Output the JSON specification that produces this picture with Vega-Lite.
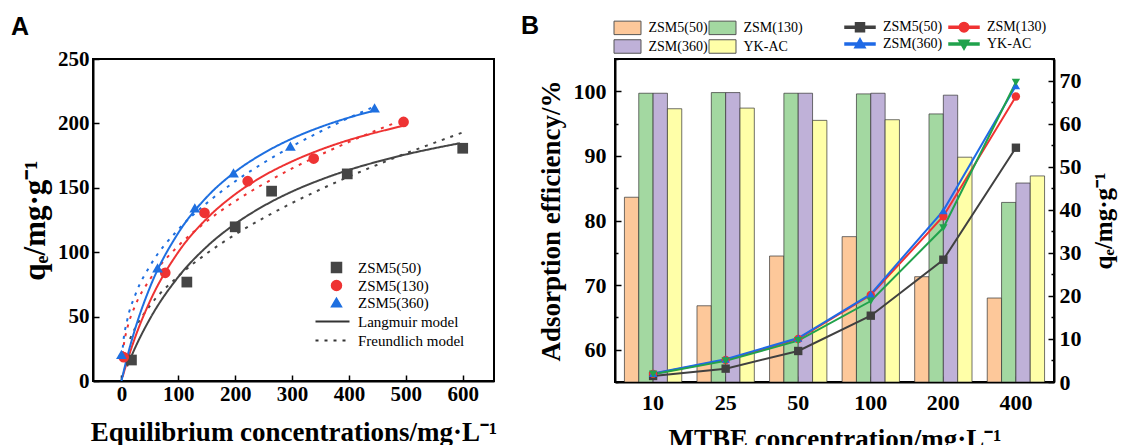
{
  "$schema": "https://vega.github.io/schema/vega-lite/v6.json",
  "padding": {"left": 10, "top": 13, "right": 5, "bottom": 0},
  "bounds": "flush",
  "spacing": 121,
  "resolve": {"scale": {"fill": "independent", "color": "independent", "stroke": "independent", "shape": "independent", "strokeDash": "independent"}, "legend": {"fill": "independent", "color": "independent", "stroke": "independent", "shape": "independent", "strokeDash": "independent"}},
  "config": {
    "font": "Liberation Serif",
    "view": {"stroke": "black", "strokeWidth": 2},
    "axis": {"domainColor": "black", "domainWidth": 2, "tickColor": "black", "tickWidth": 1.5, "labelFont": "Liberation Serif", "labelFontWeight": "bold", "labelFontSize": 21, "labelColor": "black", "titleFont": "Liberation Serif", "titleFontWeight": "bold", "titleColor": "black", "grid": false, "labelOverlap": false, "labelFlush": false},
    "legend": {"labelFont": "Liberation Serif", "labelFontSize": 14, "labelColor": "black", "padding": 0, "titlePadding": 0, "labelLimit": 200}
  },
  "datasets": {
    "curvesA": [
      {"sample": "ZSM5(50)", "model": "Langmuir model", "C": 10, "q": 11.4},
      {"sample": "ZSM5(50)", "model": "Langmuir model", "C": 25, "q": 26.7},
      {"sample": "ZSM5(50)", "model": "Langmuir model", "C": 50, "q": 48.2},
      {"sample": "ZSM5(50)", "model": "Langmuir model", "C": 100, "q": 80.8},
      {"sample": "ZSM5(50)", "model": "Langmuir model", "C": 150, "q": 104.3},
      {"sample": "ZSM5(50)", "model": "Langmuir model", "C": 200, "q": 122},
      {"sample": "ZSM5(50)", "model": "Langmuir model", "C": 250, "q": 135.9},
      {"sample": "ZSM5(50)", "model": "Langmuir model", "C": 300, "q": 147.1},
      {"sample": "ZSM5(50)", "model": "Langmuir model", "C": 350, "q": 156.2},
      {"sample": "ZSM5(50)", "model": "Langmuir model", "C": 400, "q": 163.9},
      {"sample": "ZSM5(50)", "model": "Langmuir model", "C": 450, "q": 170.3},
      {"sample": "ZSM5(50)", "model": "Langmuir model", "C": 500, "q": 175.9},
      {"sample": "ZSM5(50)", "model": "Langmuir model", "C": 550, "q": 180.7},
      {"sample": "ZSM5(50)", "model": "Langmuir model", "C": 595, "q": 184.6},
      {"sample": "ZSM5(50)", "model": "Freundlich model", "C": 15, "q": 32.7},
      {"sample": "ZSM5(50)", "model": "Freundlich model", "C": 25, "q": 41.8},
      {"sample": "ZSM5(50)", "model": "Freundlich model", "C": 50, "q": 58.4},
      {"sample": "ZSM5(50)", "model": "Freundlich model", "C": 100, "q": 81.4},
      {"sample": "ZSM5(50)", "model": "Freundlich model", "C": 150, "q": 99},
      {"sample": "ZSM5(50)", "model": "Freundlich model", "C": 200, "q": 113.7},
      {"sample": "ZSM5(50)", "model": "Freundlich model", "C": 250, "q": 126.6},
      {"sample": "ZSM5(50)", "model": "Freundlich model", "C": 300, "q": 138.2},
      {"sample": "ZSM5(50)", "model": "Freundlich model", "C": 350, "q": 148.8},
      {"sample": "ZSM5(50)", "model": "Freundlich model", "C": 400, "q": 158.7},
      {"sample": "ZSM5(50)", "model": "Freundlich model", "C": 450, "q": 167.9},
      {"sample": "ZSM5(50)", "model": "Freundlich model", "C": 500, "q": 176.7},
      {"sample": "ZSM5(50)", "model": "Freundlich model", "C": 550, "q": 184.9},
      {"sample": "ZSM5(50)", "model": "Freundlich model", "C": 600, "q": 193},
      {"sample": "ZSM5(130)", "model": "Langmuir model", "C": 2, "q": 3.2},
      {"sample": "ZSM5(130)", "model": "Langmuir model", "C": 10, "q": 15.2},
      {"sample": "ZSM5(130)", "model": "Langmuir model", "C": 25, "q": 35},
      {"sample": "ZSM5(130)", "model": "Langmuir model", "C": 50, "q": 61.8},
      {"sample": "ZSM5(130)", "model": "Langmuir model", "C": 100, "q": 100.1},
      {"sample": "ZSM5(130)", "model": "Langmuir model", "C": 150, "q": 126.1},
      {"sample": "ZSM5(130)", "model": "Langmuir model", "C": 200, "q": 145},
      {"sample": "ZSM5(130)", "model": "Langmuir model", "C": 250, "q": 159.3},
      {"sample": "ZSM5(130)", "model": "Langmuir model", "C": 300, "q": 170.5},
      {"sample": "ZSM5(130)", "model": "Langmuir model", "C": 350, "q": 179.6},
      {"sample": "ZSM5(130)", "model": "Langmuir model", "C": 400, "q": 187.1},
      {"sample": "ZSM5(130)", "model": "Langmuir model", "C": 450, "q": 193.2},
      {"sample": "ZSM5(130)", "model": "Langmuir model", "C": 495, "q": 198.1},
      {"sample": "ZSM5(130)", "model": "Freundlich model", "C": 2, "q": 20.9},
      {"sample": "ZSM5(130)", "model": "Freundlich model", "C": 5, "q": 30.5},
      {"sample": "ZSM5(130)", "model": "Freundlich model", "C": 10, "q": 40.6},
      {"sample": "ZSM5(130)", "model": "Freundlich model", "C": 25, "q": 59.3},
      {"sample": "ZSM5(130)", "model": "Freundlich model", "C": 50, "q": 78.8},
      {"sample": "ZSM5(130)", "model": "Freundlich model", "C": 100, "q": 104.9},
      {"sample": "ZSM5(130)", "model": "Freundlich model", "C": 150, "q": 124},
      {"sample": "ZSM5(130)", "model": "Freundlich model", "C": 200, "q": 139.6},
      {"sample": "ZSM5(130)", "model": "Freundlich model", "C": 250, "q": 153},
      {"sample": "ZSM5(130)", "model": "Freundlich model", "C": 300, "q": 165},
      {"sample": "ZSM5(130)", "model": "Freundlich model", "C": 350, "q": 175.7},
      {"sample": "ZSM5(130)", "model": "Freundlich model", "C": 400, "q": 185.6},
      {"sample": "ZSM5(130)", "model": "Freundlich model", "C": 450, "q": 194.9},
      {"sample": "ZSM5(130)", "model": "Freundlich model", "C": 480, "q": 200.2},
      {"sample": "ZSM5(360)", "model": "Langmuir model", "C": 0, "q": 0},
      {"sample": "ZSM5(360)", "model": "Langmuir model", "C": 10, "q": 18.4},
      {"sample": "ZSM5(360)", "model": "Langmuir model", "C": 25, "q": 41.8},
      {"sample": "ZSM5(360)", "model": "Langmuir model", "C": 50, "q": 72.6},
      {"sample": "ZSM5(360)", "model": "Langmuir model", "C": 100, "q": 115},
      {"sample": "ZSM5(360)", "model": "Langmuir model", "C": 150, "q": 142.8},
      {"sample": "ZSM5(360)", "model": "Langmuir model", "C": 200, "q": 162.4},
      {"sample": "ZSM5(360)", "model": "Langmuir model", "C": 250, "q": 176.9},
      {"sample": "ZSM5(360)", "model": "Langmuir model", "C": 300, "q": 188.2},
      {"sample": "ZSM5(360)", "model": "Langmuir model", "C": 350, "q": 197.2},
      {"sample": "ZSM5(360)", "model": "Langmuir model", "C": 400, "q": 204.5},
      {"sample": "ZSM5(360)", "model": "Langmuir model", "C": 440, "q": 209.4},
      {"sample": "ZSM5(360)", "model": "Freundlich model", "C": 1, "q": 18.7},
      {"sample": "ZSM5(360)", "model": "Freundlich model", "C": 3, "q": 29},
      {"sample": "ZSM5(360)", "model": "Freundlich model", "C": 10, "q": 46.9},
      {"sample": "ZSM5(360)", "model": "Freundlich model", "C": 25, "q": 67.6},
      {"sample": "ZSM5(360)", "model": "Freundlich model", "C": 50, "q": 89.2},
      {"sample": "ZSM5(360)", "model": "Freundlich model", "C": 100, "q": 117.6},
      {"sample": "ZSM5(360)", "model": "Freundlich model", "C": 150, "q": 138.1},
      {"sample": "ZSM5(360)", "model": "Freundlich model", "C": 200, "q": 155},
      {"sample": "ZSM5(360)", "model": "Freundlich model", "C": 250, "q": 169.4},
      {"sample": "ZSM5(360)", "model": "Freundlich model", "C": 300, "q": 182.2},
      {"sample": "ZSM5(360)", "model": "Freundlich model", "C": 350, "q": 193.7},
      {"sample": "ZSM5(360)", "model": "Freundlich model", "C": 400, "q": 204.3},
      {"sample": "ZSM5(360)", "model": "Freundlich model", "C": 445, "q": 213.1}
    ],
    "pointsA": [
      {"sample": "ZSM5(50)", "C": 17.6, "q": 16.3},
      {"sample": "ZSM5(50)", "C": 115, "q": 76.8},
      {"sample": "ZSM5(50)", "C": 200, "q": 119.7},
      {"sample": "ZSM5(50)", "C": 264, "q": 147.4},
      {"sample": "ZSM5(50)", "C": 397, "q": 160.8},
      {"sample": "ZSM5(50)", "C": 600, "q": 180.7},
      {"sample": "ZSM5(130)", "C": 4, "q": 18.5},
      {"sample": "ZSM5(130)", "C": 77, "q": 84},
      {"sample": "ZSM5(130)", "C": 146, "q": 130.6},
      {"sample": "ZSM5(130)", "C": 222, "q": 155.1},
      {"sample": "ZSM5(130)", "C": 338, "q": 172.7},
      {"sample": "ZSM5(130)", "C": 496, "q": 201.1},
      {"sample": "ZSM5(360)", "C": 0, "q": 20.7},
      {"sample": "ZSM5(360)", "C": 63.5, "q": 87.9},
      {"sample": "ZSM5(360)", "C": 129, "q": 134.4},
      {"sample": "ZSM5(360)", "C": 197, "q": 161.6},
      {"sample": "ZSM5(360)", "C": 297, "q": 182.3},
      {"sample": "ZSM5(360)", "C": 445, "q": 212}
    ],
    "bars": [
      {"conc": "10", "material": "ZSM5(50)", "eff": 83.6},
      {"conc": "10", "material": "ZSM(130)", "eff": 99.7},
      {"conc": "10", "material": "ZSM(360)", "eff": 99.7},
      {"conc": "10", "material": "YK-AC", "eff": 97.3},
      {"conc": "25", "material": "ZSM5(50)", "eff": 66.8},
      {"conc": "25", "material": "ZSM(130)", "eff": 99.8},
      {"conc": "25", "material": "ZSM(360)", "eff": 99.8},
      {"conc": "25", "material": "YK-AC", "eff": 97.4},
      {"conc": "50", "material": "ZSM5(50)", "eff": 74.5},
      {"conc": "50", "material": "ZSM(130)", "eff": 99.7},
      {"conc": "50", "material": "ZSM(360)", "eff": 99.7},
      {"conc": "50", "material": "YK-AC", "eff": 95.5},
      {"conc": "100", "material": "ZSM5(50)", "eff": 77.5},
      {"conc": "100", "material": "ZSM(130)", "eff": 99.6},
      {"conc": "100", "material": "ZSM(360)", "eff": 99.7},
      {"conc": "100", "material": "YK-AC", "eff": 95.6},
      {"conc": "200", "material": "ZSM5(50)", "eff": 71.3},
      {"conc": "200", "material": "ZSM(130)", "eff": 96.5},
      {"conc": "200", "material": "ZSM(360)", "eff": 99.4},
      {"conc": "200", "material": "YK-AC", "eff": 89.8},
      {"conc": "400", "material": "ZSM5(50)", "eff": 68.0},
      {"conc": "400", "material": "ZSM(130)", "eff": 82.8},
      {"conc": "400", "material": "ZSM(360)", "eff": 85.8},
      {"conc": "400", "material": "YK-AC", "eff": 86.9}
    ],
    "linesB": [
      {"conc": "10", "sample": "ZSM5(50)", "q": 1.4},
      {"conc": "25", "sample": "ZSM5(50)", "q": 3.1},
      {"conc": "50", "sample": "ZSM5(50)", "q": 7.2},
      {"conc": "100", "sample": "ZSM5(50)", "q": 15.4},
      {"conc": "200", "sample": "ZSM5(50)", "q": 28.4},
      {"conc": "400", "sample": "ZSM5(50)", "q": 54.4},
      {"conc": "10", "sample": "ZSM(130)", "q": 1.9},
      {"conc": "25", "sample": "ZSM(130)", "q": 5.1},
      {"conc": "50", "sample": "ZSM(130)", "q": 10.0},
      {"conc": "100", "sample": "ZSM(130)", "q": 20.2},
      {"conc": "200", "sample": "ZSM(130)", "q": 38.5},
      {"conc": "400", "sample": "ZSM(130)", "q": 66.3},
      {"conc": "10", "sample": "ZSM(360)", "q": 2.0},
      {"conc": "25", "sample": "ZSM(360)", "q": 5.3},
      {"conc": "50", "sample": "ZSM(360)", "q": 10.2},
      {"conc": "100", "sample": "ZSM(360)", "q": 20.4},
      {"conc": "200", "sample": "ZSM(360)", "q": 39.8},
      {"conc": "400", "sample": "ZSM(360)", "q": 68.8},
      {"conc": "10", "sample": "YK-AC", "q": 1.8},
      {"conc": "25", "sample": "YK-AC", "q": 4.9},
      {"conc": "50", "sample": "YK-AC", "q": 9.6},
      {"conc": "100", "sample": "YK-AC", "q": 18.8},
      {"conc": "200", "sample": "YK-AC", "q": 35.8},
      {"conc": "400", "sample": "YK-AC", "q": 69.6}
    ]
  },
  "hconcat": [
    {
      "width": 401,
      "height": 322,
      "title": {"text": "A", "anchor": "start", "frame": "group", "dx": -82, "offset": 8, "font": "Liberation Sans", "fontSize": 25, "fontWeight": "bold", "color": "black"},
      "layer": [
        {
          "data": {"name": "curvesA"},
          "mark": {"type": "line", "strokeWidth": 2, "interpolate": "monotone", "clip": true},
          "encoding": {
            "x": {"field": "C", "type": "quantitative", "scale": {"domain": [-50, 655], "nice": false, "zero": false},
              "axis": {"title": "Equilibrium concentrations/mg·L⁻¹", "titleFontSize": 27, "titlePadding": 15, "values": [0, 50, 100, 150, 200, 250, 300, 350, 400, 450, 500, 550, 600, 650], "labelExpr": "datum.value % 100 === 0 ? datum.label : ''", "tickSize": {"condition": {"test": "datum.value % 100 === 0", "value": -6}, "value": -3}, "labelPadding": 8}},
            "y": {"field": "q", "type": "quantitative", "scale": {"domain": [0, 250], "nice": false},
              "axis": {"title": "qₑ/mg·g⁻¹", "titleFontSize": 31, "titlePadding": 6, "values": [0, 25, 50, 75, 100, 125, 150, 175, 200, 225, 250], "labelExpr": "datum.value % 50 === 0 ? datum.label : ''", "tickSize": {"condition": {"test": "datum.value % 50 === 0", "value": -6}, "value": -3}, "labelPadding": 10}},
            "color": {"field": "sample", "type": "nominal", "scale": {"domain": ["ZSM5(50)", "ZSM5(130)", "ZSM5(360)"], "range": ["#454545", "#EE3333", "#1E6FE0"]},
              "legend": {"title": null, "orient": "none", "legendX": 236, "legendY": 201, "symbolSize": 100, "labelOffset": 14, "rowPadding": 1, "labelFontSize": 15, "symbolOpacity": 1}},
            "strokeDash": {"field": "model", "type": "nominal", "scale": {"domain": ["Langmuir model", "Freundlich model"], "range": [[1, 0], [3, 6]]},
              "legend": {"title": null, "orient": "none", "legendX": 232, "legendY": 255, "symbolType": "M-3.4,0H3.4", "symbolSize": 100, "symbolStrokeWidth": 2, "symbolStrokeColor": "#333333", "labelOffset": 18, "rowPadding": 3, "labelFontSize": 15,
                "encode": {"symbols": {"update": {"stroke": {"value": "#333333"}, "strokeWidth": {"value": 2}}}}}}
          }
        },
        {
          "data": {"name": "pointsA"},
          "mark": {"type": "point", "filled": true, "opacity": 1, "size": 115},
          "encoding": {
            "x": {"field": "C", "type": "quantitative"},
            "y": {"field": "q", "type": "quantitative"},
            "color": {"field": "sample", "type": "nominal", "scale": {"domain": ["ZSM5(50)", "ZSM5(130)", "ZSM5(360)"], "range": ["#454545", "#EE3333", "#1E6FE0"]},
              "legend": {"title": null, "orient": "none", "legendX": 236, "legendY": 201, "symbolSize": 100, "labelOffset": 14, "rowPadding": 1, "labelFontSize": 15, "symbolOpacity": 1}},
            "shape": {"field": "sample", "type": "nominal", "scale": {"domain": ["ZSM5(50)", "ZSM5(130)", "ZSM5(360)"], "range": ["square", "circle", "triangle-up"]},
              "legend": {"title": null, "orient": "none", "legendX": 236, "legendY": 201, "symbolSize": 100, "labelOffset": 14, "rowPadding": 1, "labelFontSize": 15, "symbolOpacity": 1}}
          }
        }
      ]
    },
    {
      "width": 439,
      "height": 323,
      "title": {"text": "B", "anchor": "start", "frame": "group", "dx": -94, "offset": -19, "font": "Liberation Sans", "fontSize": 25, "fontWeight": "bold", "color": "black"},
      "layer": [
        {
          "data": {"name": "bars"},
          "mark": {"type": "bar", "stroke": "#333333", "strokeWidth": 0.7, "clip": true},
          "encoding": {
            "x": {"field": "conc", "type": "nominal", "scale": {"domain": ["10", "25", "50", "100", "200", "400"], "paddingInner": 0.21, "paddingOuter": 0.13},
              "axis": {"title": "MTBE concentration/mg·L⁻¹", "titleFontSize": 27, "titlePadding": 13, "labelAngle": 0, "labelFontSize": 22, "tickSize": -6, "labelPadding": 16}},
            "xOffset": {"field": "material", "type": "nominal", "scale": {"domain": ["ZSM5(50)", "ZSM(130)", "ZSM(360)", "YK-AC"]}},
            "y": {"field": "eff", "type": "quantitative", "scale": {"domain": [55, 105], "nice": false, "zero": false},
              "axis": {"title": "Adsorption efficiency/%", "titleFontSize": 27, "titlePadding": 8, "labelFontSize": 22, "values": [55, 60, 65, 70, 75, 80, 85, 90, 95, 100, 105], "labelExpr": "datum.value % 10 === 0 ? datum.label : ''", "tickSize": {"condition": {"test": "datum.value % 10 === 0", "value": -6}, "value": -3}, "labelPadding": 15}},
            "y2": {"datum": 55},
            "fill": {"field": "material", "type": "nominal", "scale": {"domain": ["ZSM5(50)", "ZSM(130)", "ZSM(360)", "YK-AC"], "range": ["#FDC89A", "#A3D8A1", "#BFB1D8", "#FFFFA8"]},
              "legend": {"title": null, "orient": "none", "direction": "horizontal", "legendX": 5, "legendY": -39, "columns": 2, "symbolType": "M-2,-1H2V1H-2Z", "symbolSize": 182, "symbolStrokeColor": "#555555", "symbolStrokeWidth": 1, "labelOffset": 13.5, "rowPadding": 0, "columnPadding": -1, "labelFontSize": 14}}
          }
        },
        {
          "data": {"name": "linesB"},
          "encoding": {
            "x": {"field": "conc", "type": "nominal"},
            "y": {"field": "q", "type": "quantitative", "scale": {"domain": [0, 75], "nice": false},
              "axis": {"orient": "right", "title": "qₑ/mg·g⁻¹", "titleFontSize": 25, "titleAngle": 270, "titleBaseline": "top", "titlePadding": 10, "labelFontSize": 22, "values": [0, 5, 10, 15, 20, 25, 30, 35, 40, 45, 50, 55, 60, 65, 70, 75], "labelExpr": "datum.value % 10 === 0 ? datum.label : ''", "tickSize": {"condition": {"test": "datum.value % 10 === 0", "value": -6}, "value": -3}, "labelPadding": 11}},
            "color": {"field": "sample", "type": "nominal", "sort": ["ZSM5(50)", "ZSM(130)", "ZSM(360)", "YK-AC"], "scale": {"range": ["#404040", "#F03232", "#1F6AE6", "#21A24C"]},
              "legend": {"title": null, "orient": "none", "direction": "horizontal", "legendX": 238, "legendY": -39, "columns": 2, "symbolSize": 100, "symbolOpacity": 1, "labelOffset": 16, "rowPadding": 0, "columnPadding": 3, "labelFontSize": 14,
                "encode": {"symbols": {"update": {"shape": {"signal": "datum.value === 'ZSM5(50)' ? 'M-3,-0.2H3V0.2H-3ZM-0.9,-0.9H0.9V0.9H-0.9Z' : datum.value === 'ZSM(130)' ? 'M-3,-0.2H3V0.2H-3ZM0.95,0A0.95,0.95 0 1,1 -0.95,0A0.95,0.95 0 1,1 0.95,0Z' : datum.value === 'ZSM(360)' ? 'M-3,-0.2H3V0.2H-3ZM0,-1.1L1.05,0.75H-1.05Z' : 'M-3,-0.2H3V0.2H-3ZM0,1.1L-1.05,-0.75H1.05Z'"}, "fill": {"scale": "color", "field": "value"}, "stroke": {"value": "transparent"}}}}}}
          },
          "layer": [
            {
              "mark": {"type": "line", "strokeWidth": 2},
              "encoding": {
                "order": {"value": null}
              }
            },
            {
              "mark": {"type": "point", "filled": true, "opacity": 1, "size": 70},
              "encoding": {
                "shape": {"field": "sample", "type": "nominal", "sort": ["ZSM5(50)", "ZSM(130)", "ZSM(360)", "YK-AC"], "scale": {"range": ["square", "circle", "triangle-up", "triangle-down"]}, "legend": null}
              }
            }
          ]
        }
      ],
      "resolve": {"scale": {"y": "independent"}}
    }
  ]
}
